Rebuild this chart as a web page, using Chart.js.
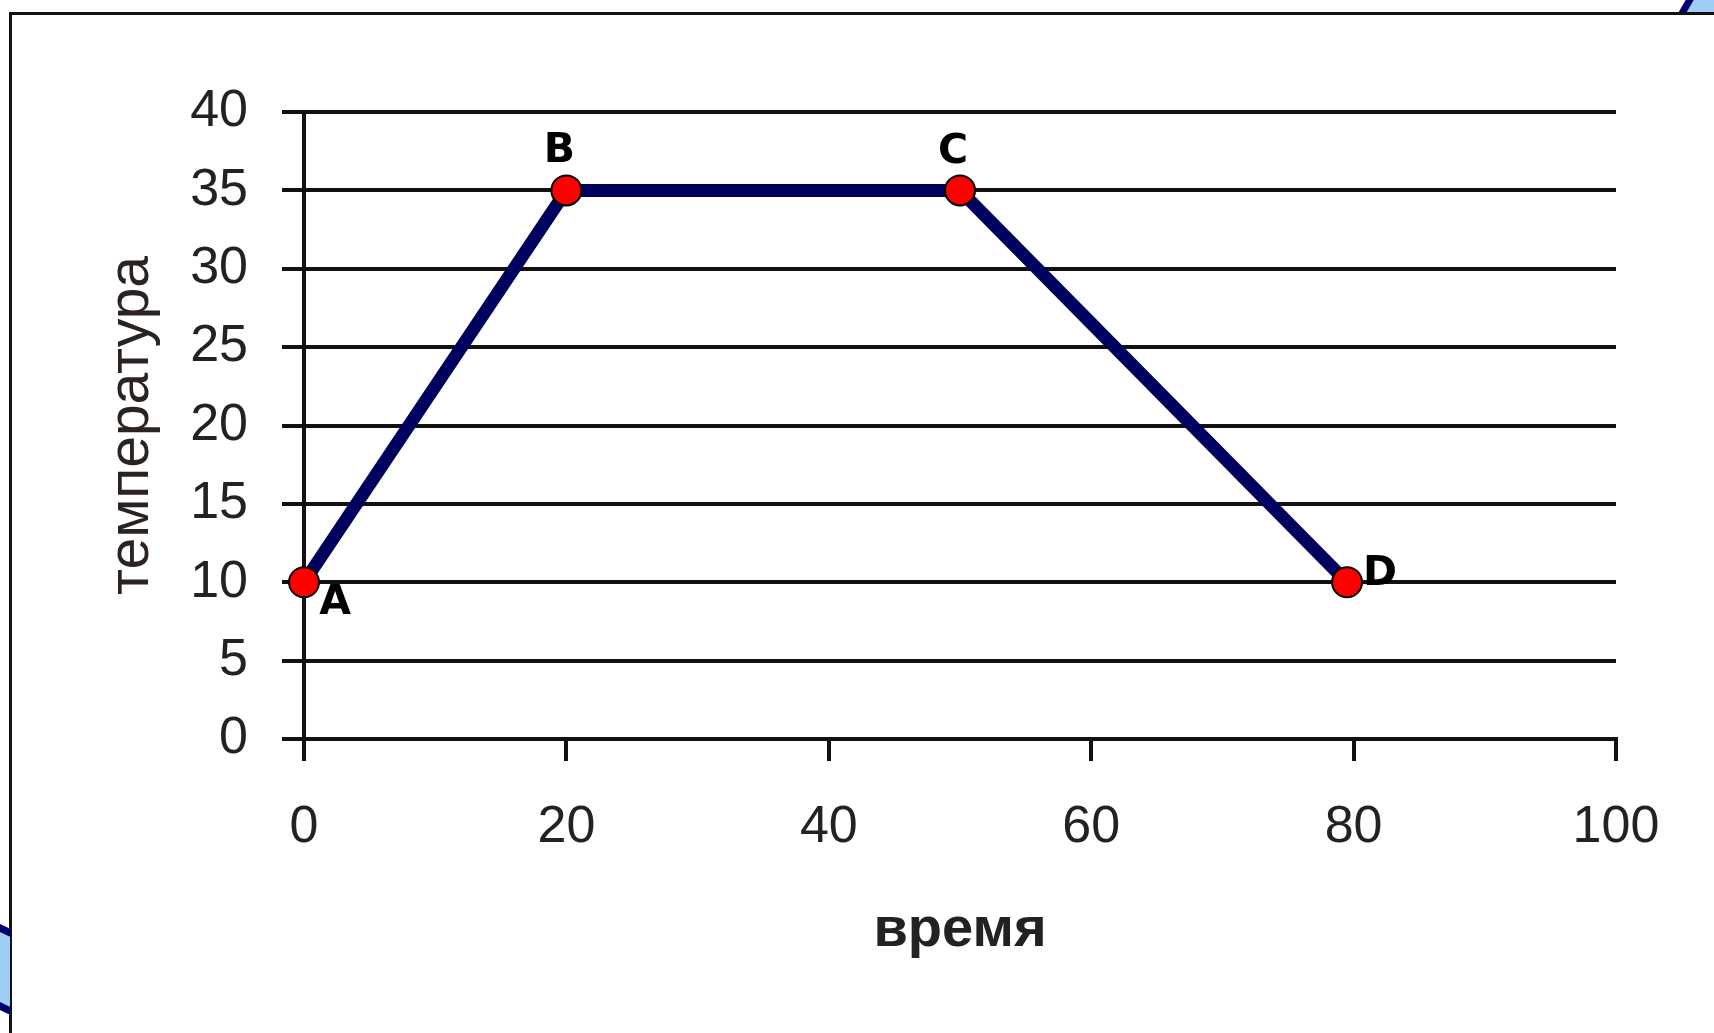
<!DOCTYPE html>
<html>
<head>
<meta charset="utf-8">
<title>температура / время</title>
<script src="https://cdn.jsdelivr.net/npm/chart.js@4.4.0/dist/chart.umd.min.js"></script>
<style>
    body {
        margin: 0;
        background: #fff;
        overflow: hidden;
    }
    #wrap {
        position: relative;
        width: 1714px;
        height: 1033px;
    }
    /* slide frame behind the chart */
    .frame {
        position: absolute;
        left: 9px;
        top: 12px;
        width: 1720px;
        height: 1018px;
        border: 3px solid #111;
        box-sizing: content-box;
    }
    .deco1 {
        position: absolute;
        left: -6px;
        top: 925px;
        width: 16px;
        height: 70px;
        background: #9fcdf5;
        border-top: 8px solid #000070;
        border-bottom: 8px solid #000070;
        transform: skewY(25deg);
    }
    .deco2 {
        position: absolute;
        left: 1684px;
        top: -6px;
        width: 34px;
        height: 18px;
        background: #9fcdf5;
        border-left: 8px solid #000070;
        transform: skewX(-30deg);
    }
    canvas {
        position: absolute;
        left: 0;
        top: 0;
    }
</style>
</head>
<body>
<div id="wrap">
    <div class="frame"></div>
    <div class="deco1"></div>
    <div class="deco2"></div>
    <canvas id="myChart" width="1714" height="1033"></canvas>
</div>
<script>
// data
const timeValues = [0, 20, 50, 79.5];
const tempValues = [10, 35, 35, 10];
const pointNames = ['A', 'B', 'C', 'D'];
const xTicks = [0, 20, 40, 60, 80, 100];
const yTicks = [0, 5, 10, 15, 20, 25, 30, 35, 40];

// where each letter sits next to its point (px)
const nameOffsets = [[31, 21], [-7, -39], [-7, -38], [33, -8]];

const points = timeValues.map((t, i) => ({ x: t, y: tempValues[i] }));

// draws A B C D beside the points
const pointNamePlugin = {
    id: 'pointNames',
    afterDatasetsDraw(chart) {
        const meta = chart.getDatasetMeta(0);
        const c = chart.ctx;
        c.save();
        c.font = 'bold 41px "DejaVu Sans"';
        c.fillStyle = '#000';
        c.textAlign = 'center';
        c.textBaseline = 'middle';
        meta.data.forEach((el, i) => {
            c.fillText(pointNames[i], el.x + nameOffsets[i][0], el.y + nameOffsets[i][1]);
        });
        c.restore();
    }
};

const ctx = document.getElementById('myChart');

new Chart(ctx, {
    type: 'scatter',
    data: {
        datasets: [{
            data: points,
            showLine: true,
            borderColor: '#00005e',
            borderWidth: 13,
            pointBackgroundColor: '#ff0000',
            pointBorderColor: '#000',
            pointBorderWidth: 2,
            pointRadius: 15,
            clip: false
        }]
    },
    options: {
        responsive: false,
        animation: false,
        layout: {
            padding: { top: 112, right: 98, left: 0, bottom: 0 }
        },
        plugins: {
            legend: { display: false },
            tooltip: { enabled: false }
        },
        scales: {
            x: {
                type: 'linear',
                min: 0,
                max: 100,
                afterBuildTicks: (s) => { s.ticks = xTicks.map(v => ({ value: v })); },
                afterFit: (s) => { s.height = 294; },
                grid: {
                    drawOnChartArea: false,
                    drawTicks: true,
                    tickLength: 22,
                    color: '#111',
                    lineWidth: 4
                },
                border: { color: '#111', width: 4 },
                ticks: {
                    padding: 35,
                    color: '#222',
                    font: { family: '"Liberation Sans"', size: 52 }
                },
                title: {
                    display: true,
                    text: 'время',
                    color: '#222',
                    padding: { top: 0, bottom: 69 },
                    font: { family: '"Liberation Sans"', size: 56, weight: 'bold' }
                }
            },
            y: {
                min: 0,
                max: 40,
                afterBuildTicks: (s) => { s.ticks = yTicks.map(v => ({ value: v })); },
                afterFit: (s) => { s.width = 304; },
                grid: {
                    drawTicks: true,
                    tickLength: 22,
                    color: '#111',
                    lineWidth: 4
                },
                border: { color: '#111', width: 4 },
                ticks: {
                    padding: 34,
                    color: '#222',
                    font: { family: '"Liberation Sans"', size: 52 }
                },
                title: {
                    display: true,
                    text: 'температура',
                    color: '#2a2320',
                    padding: { top: 98, bottom: 0 },
                    font: { family: '"Liberation Sans"', size: 57 }
                }
            }
        }
    },
    plugins: [pointNamePlugin]
});
</script>
</body>
</html>
